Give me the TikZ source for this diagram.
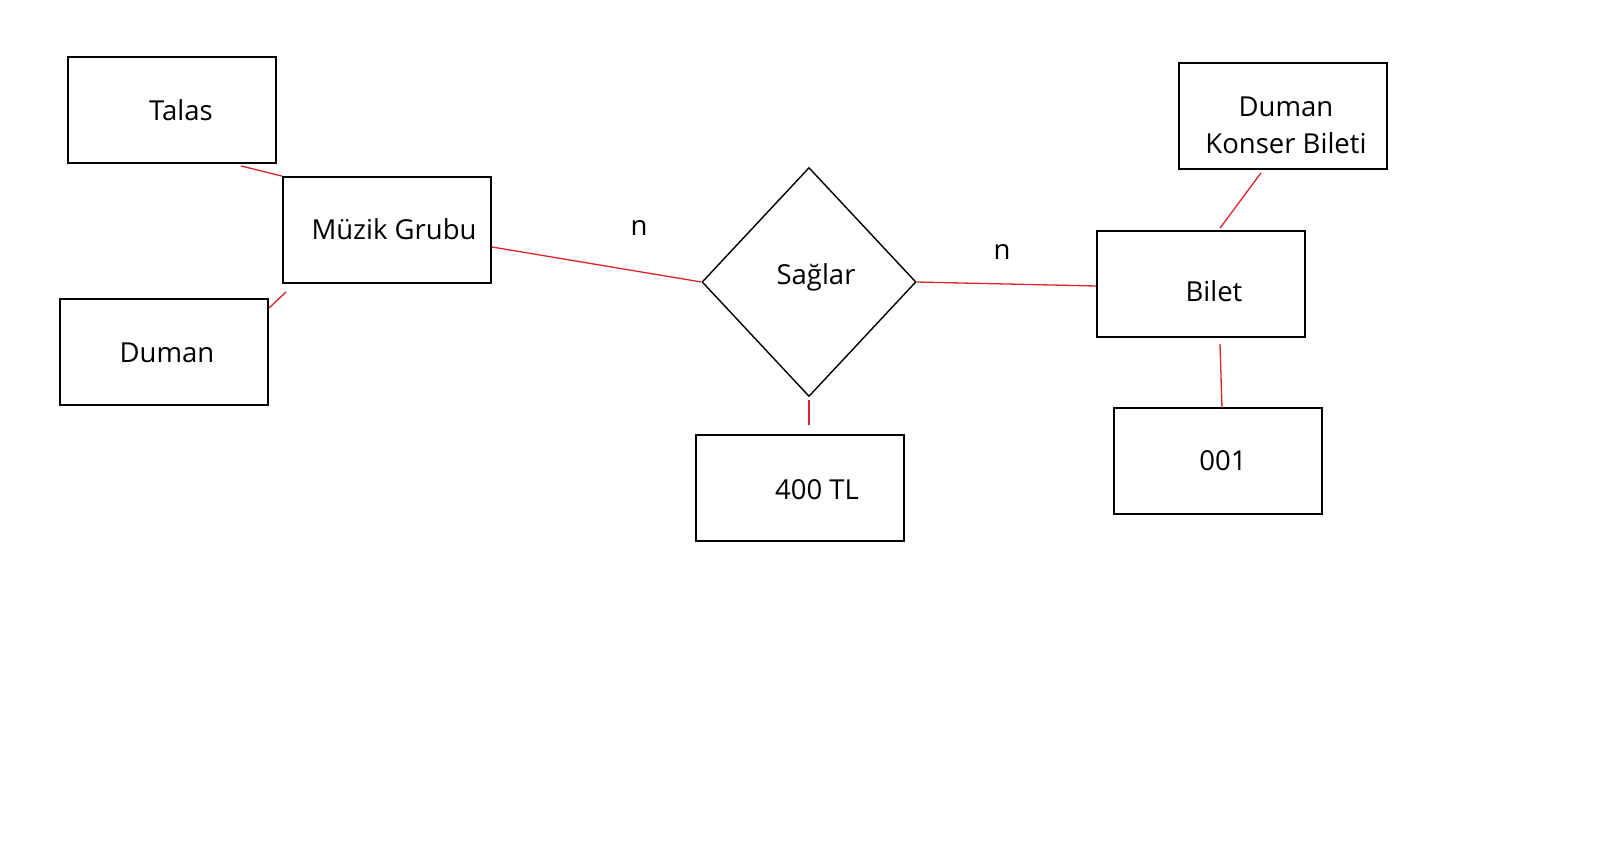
\documentclass[tikz,border=0pt]{standalone}
\usepackage{fontspec}
\setmainfont{Open Sans}
\usetikzlibrary{shapes.geometric,calc}
\definecolor{lred}{RGB}{220,35,45}
\begin{document}
\begin{tikzpicture}[x=1pt,y=-1pt,
 box/.style={draw=black,line width=1.8pt,rectangle,inner sep=0pt,minimum width=208pt,minimum height=106pt},
 rel/.style={draw=black,line width=1.4pt,diamond,inner sep=0pt,minimum width=214pt,minimum height=229pt},
 lbl/.style={font=\fontsize{27.5}{37}\selectfont,align=center},
 link/.style={draw=lred,line width=1.3pt}]
\useasboundingbox[fill=white] (0,0) rectangle (1600,841);
\node[box,label={[lbl,xshift=9pt,yshift=0pt]center:Talas}] (talas) at (172,110) {};
\node[box,label={[lbl,xshift=7pt,yshift=1pt]center:Müzik Grubu}] (muzik) at (387,230) {};
\node[box,label={[lbl,xshift=3pt,yshift=-1pt]center:Duman}] (duman) at (164,352) {};
\node[rel,label={[lbl,xshift=7pt,yshift=5pt]center:Sağlar}] (saglar) at (809,282) {};
\node[box,label={[lbl,xshift=17pt,yshift=-2pt]center:400 TL}] (tl) at (800,488) {};
\node[box,label={[lbl,xshift=13pt,yshift=-7pt]center:Bilet}] (bilet) at (1201,284) {};
\node[box,label={[lbl,xshift=5pt]center:001}] (n001) at (1218,461) {};
\node[box,label={[lbl,xshift=3pt,yshift=-9pt]center:Duman\\Konser Bileti}] (dk) at (1283,116) {};
\node[lbl] (n1) at (639,228) {n};
\node[lbl] (n2) at (1002,252) {n};
\draw[link] ($(talas.south east)+(-36,2)$) -- (muzik.north west);
\draw[link] ($(duman.north east)+(0,10)$) -- ($(muzik.south west)+(4,8)$);
\draw[link] ($(muzik.east)+(0,17)$) -- (saglar.west);
\draw[link] (saglar.east) -- ($(bilet.west)+(0,2)$);
\draw[link] ($(saglar.south)+(0,3)$) -- ($(saglar.south|-tl.north)+(0,-9)$);
\draw[link] ($(dk.south)+(-22,3)$) -- ($(bilet.north)+(19,-2)$);
\draw[link] ($(bilet.south)+(19,6)$) -- ($(n001.north)+(4,1)$);
\end{tikzpicture}
\end{document}
